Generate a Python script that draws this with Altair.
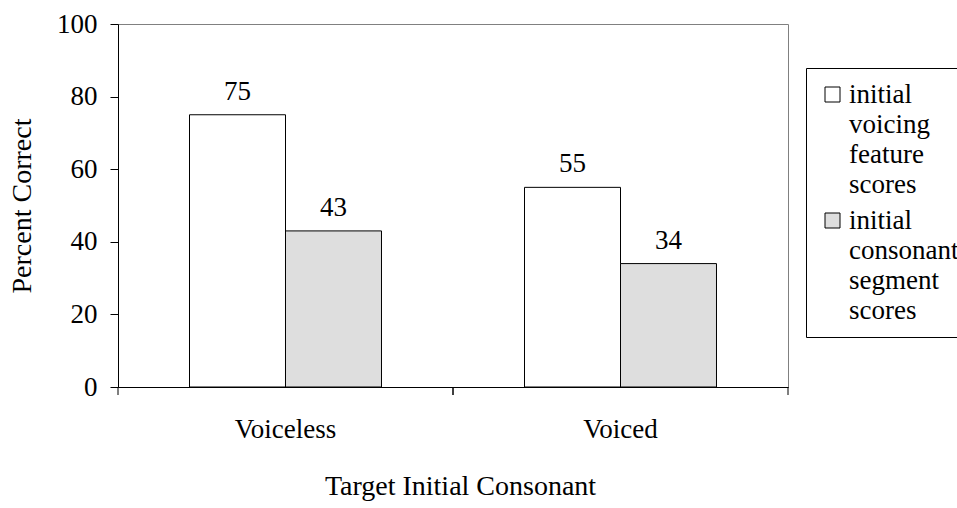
import altair as alt
import pandas as pd

# Scores by target initial consonant
categories = ["Voiceless", "Voiced"]
series_names = ["initial voicing feature scores", "initial consonant segment scores"]
voicing_scores = [75, 55]
segment_scores = [43, 34]
y_ticks = [0, 20, 40, 60, 80, 100]

rows = []
for i, cat in enumerate(categories):
    rows.append({"category": cat, "series": series_names[0], "value": voicing_scores[i]})
    rows.append({"category": cat, "series": series_names[1], "value": segment_scores[i]})
df = pd.DataFrame(rows)
cat_df = pd.DataFrame({"category": categories})

FONT = "Liberation Serif"
FS = 27
TFS = 28
W, H = 670, 363

x_enc = alt.X(
    "category:N",
    sort=categories,
    scale=alt.Scale(paddingInner=0, paddingOuter=0),
    axis=alt.Axis(
        title="Target Initial Consonant",
        labelAngle=0,
        ticks=False,
        tickSize=0,
        labelPadding=29,
        titlePadding=30,
        titleX=342,
        domainColor="black",
        labelColor="black",
        titleColor="black",
        labelFont=FONT,
        labelFontSize=FS,
        titleFont=FONT,
        titleFontSize=TFS,
        titleFontWeight="normal",
    ),
)
x_off = alt.XOffset(
    "series:N", sort=series_names, scale=alt.Scale(paddingInner=0, paddingOuter=0.745)
)
y_enc = alt.Y(
    "value:Q",
    scale=alt.Scale(domain=[0, 100], nice=False),
    axis=alt.Axis(
        values=y_ticks,
        title="Percent Correct",
        grid=False,
        tickSize=8,
        labelPadding=13,
        titlePadding=20,
        domainColor="black",
        tickColor="black",
        labelColor="black",
        titleColor="black",
        labelFont=FONT,
        labelFontSize=FS,
        titleFont=FONT,
        titleFontSize=TFS,
        titleFontWeight="normal",
    ),
)

bars = alt.Chart(df).mark_bar(stroke="black", strokeWidth=1).encode(
    x=x_enc,
    xOffset=x_off,
    y=y_enc,
    fill=alt.Fill(
        "series:N",
        sort=series_names,
        scale=alt.Scale(domain=series_names, range=["white", "#dedede"]),
        legend=alt.Legend(
            title=None,
            orient="none",
            legendX=688,
            legendY=44,
            labelExpr="split(datum.label, ' ')",
            labelFont=FONT,
            labelFontSize=FS,
            labelColor="black",
            labelLimit=400,
            labelBaseline="middle",
            labelOffset=3,
            symbolType="square",
            symbolSize=225,
            symbolStrokeColor="black",
            symbolStrokeWidth=1,
            strokeColor="black",
            fillColor="white",
            padding=13,
            rowPadding=8,
        ),
    ),
)

value_labels = alt.Chart(df).mark_text(
    baseline="alphabetic", dy=-15, font=FONT, fontSize=FS, color="black"
).encode(x=x_enc, xOffset=x_off, y="value:Q", text="value:Q")

# Category boundary ticks below the x axis
ticks_start = alt.Chart(cat_df).mark_rule(color="black").encode(
    x=alt.X("category:N", sort=categories, bandPosition=0),
    y=alt.value(H),
    y2=alt.value(H + 8),
)
ticks_end = alt.Chart(cat_df).mark_rule(color="black").encode(
    x=alt.X("category:N", sort=categories, bandPosition=1),
    y=alt.value(H),
    y2=alt.value(H + 8),
)

chart = (
    alt.layer(bars, value_labels, ticks_start, ticks_end)
    .properties(
        width=W,
        height=H,
        autosize=alt.AutoSizeParams(type="none"),
        padding={"left": 118, "top": 24, "right": 169, "bottom": 121},
    )
    .configure(
        background="white",
        font=FONT,
        style={"guide-label": {"lineHeight": 30}},
    )
    .configure_axis(labelFont=FONT, titleFont=FONT)
    .configure_legend(labelFont=FONT)
    .configure_text(font=FONT)
    .configure_view(stroke="#808080", strokeWidth=1)
)

chart.save("out.html", embed_options={"renderer": "svg", "actions": False})
